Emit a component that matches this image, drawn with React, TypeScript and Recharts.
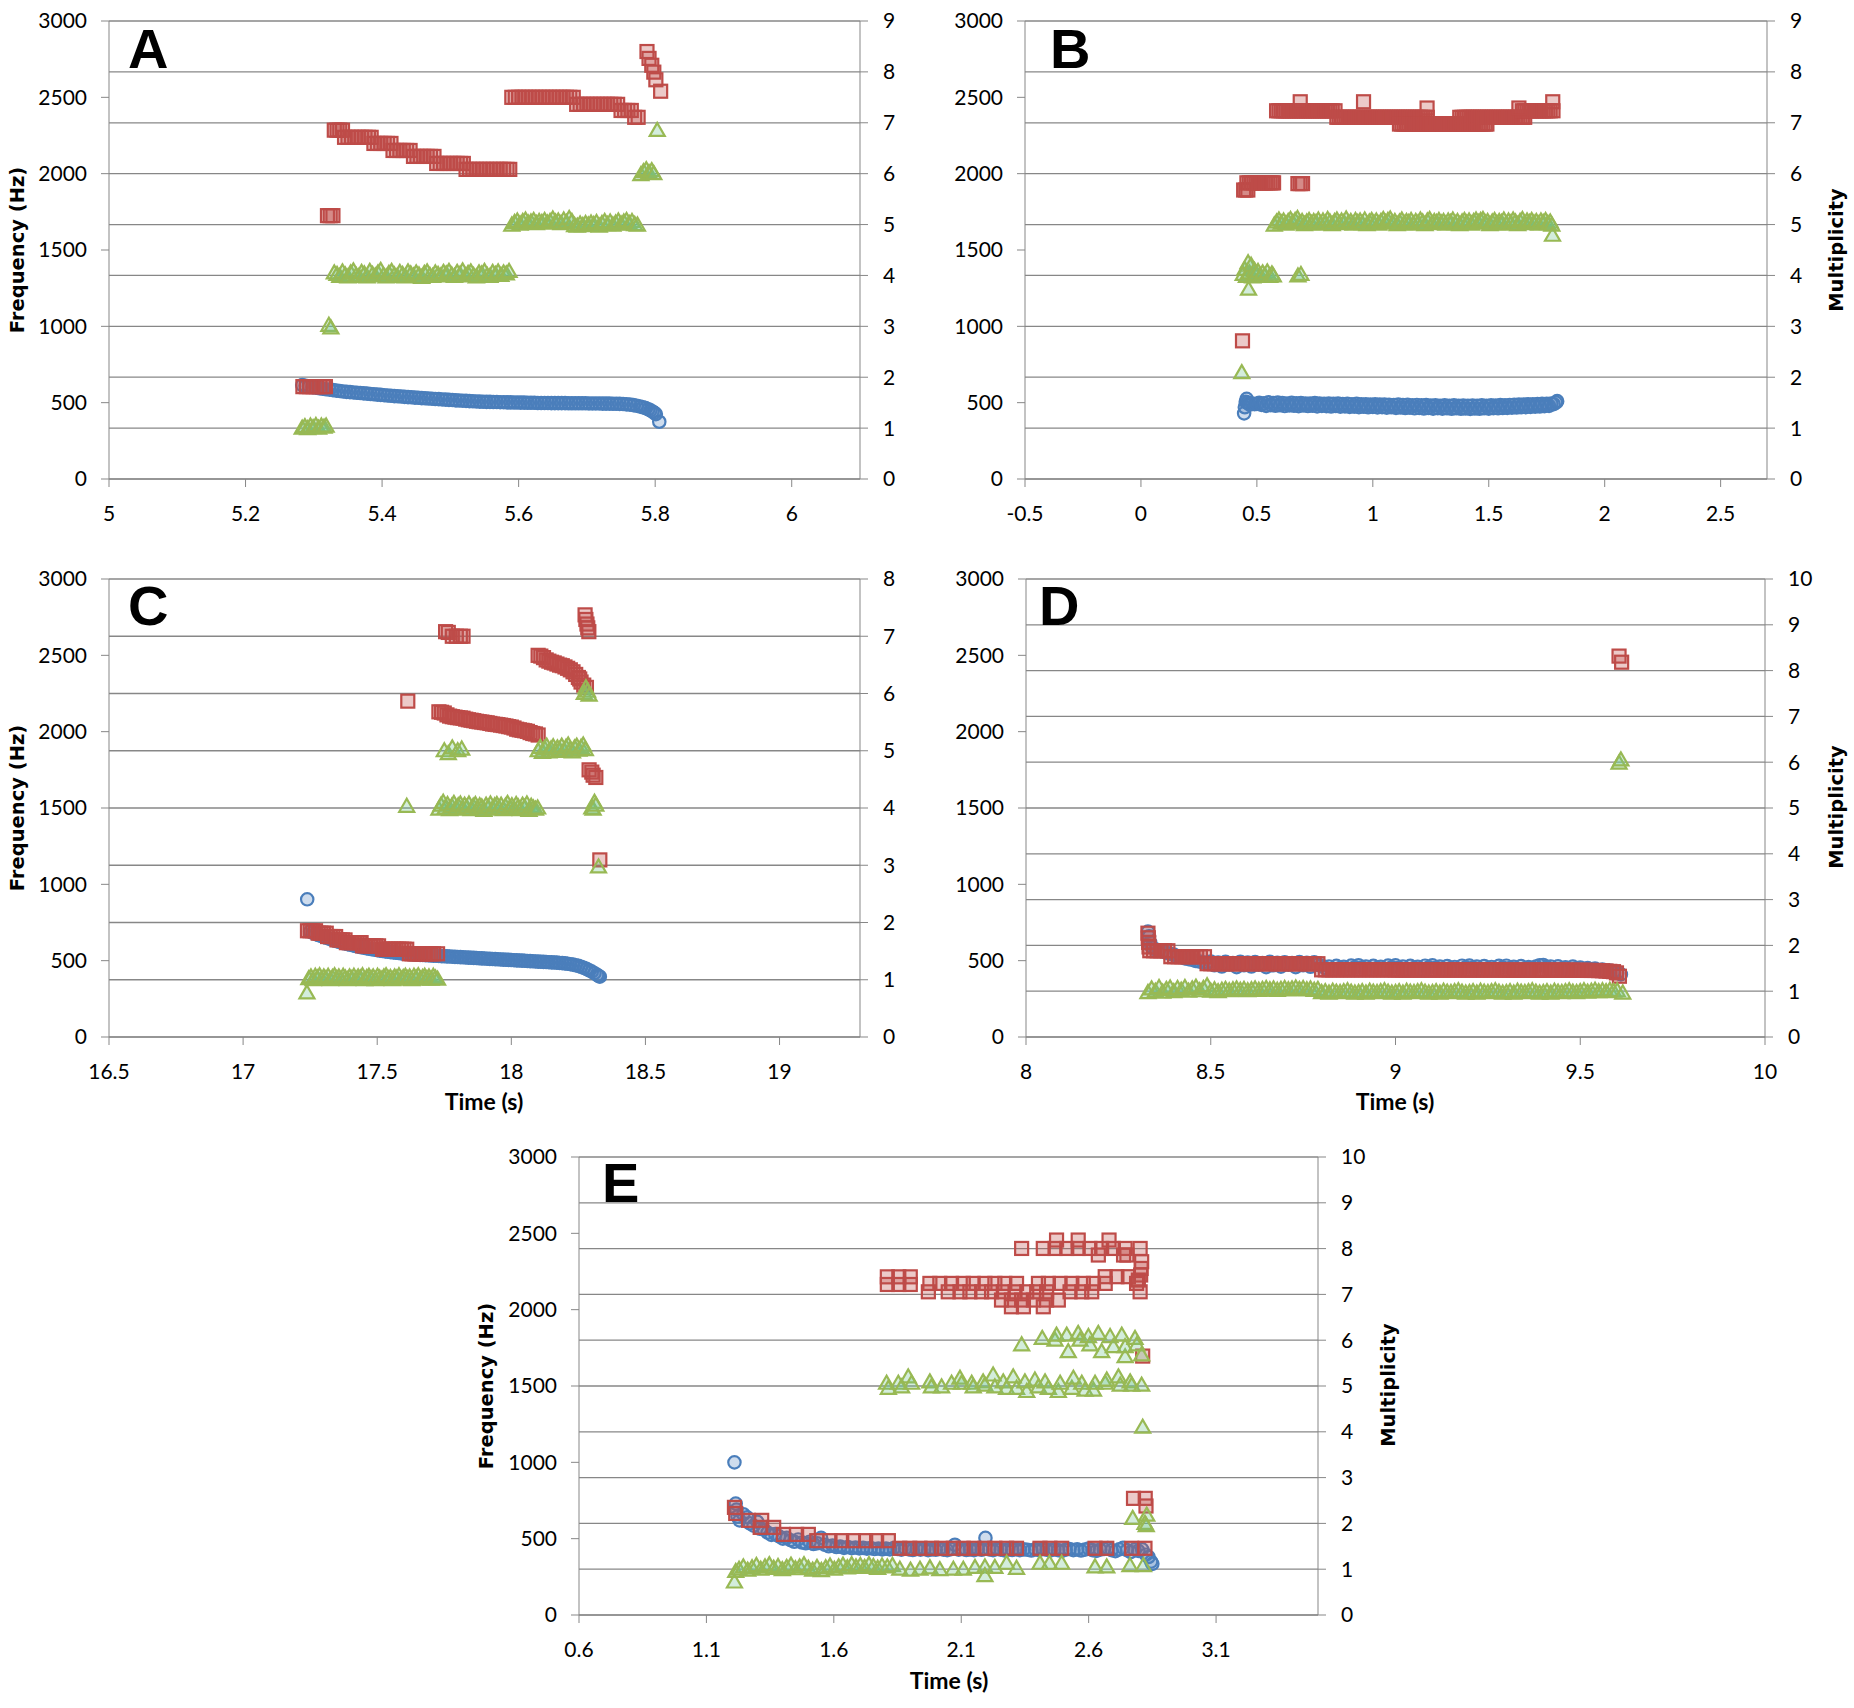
import React from "react";
import {
  ScatterChart,
  Scatter,
  XAxis,
  YAxis,
  CartesianGrid,
} from "recharts";

type Pt = [number, number];

// ---- Panel A ----
const aFreq: Pt[] = [[5.283,615],[5.288,610],[5.293,606],[5.298,602],[5.303,598],[5.308,594],[5.313,591],[5.318,588],[5.323,585],[5.328,582],[5.333,579],[5.338,576],[5.343,573],[5.348,571],[5.353,569],[5.358,567],[5.363,565],[5.368,563],[5.373,561],[5.378,559],[5.383,557],[5.388,555],[5.393,553],[5.398,551],[5.403,549],[5.408,547],[5.413,545],[5.418,543],[5.423,542],[5.428,540],[5.433,538],[5.438,536],[5.443,535],[5.448,533],[5.453,532],[5.458,530],[5.463,529],[5.468,527],[5.473,526],[5.478,524],[5.483,523],[5.488,521],[5.493,520],[5.498,518],[5.503,517],[5.508,515],[5.513,514],[5.518,513],[5.523,512],[5.528,510],[5.533,509],[5.538,508],[5.543,507],[5.548,506],[5.553,505],[5.558,505],[5.563,504],[5.568,504],[5.573,503],[5.578,503],[5.583,502],[5.588,502],[5.593,501],[5.598,501],[5.603,500],[5.608,500],[5.613,499],[5.618,499],[5.623,499],[5.628,498],[5.633,498],[5.638,498],[5.643,498],[5.648,497],[5.653,497],[5.658,497],[5.663,497],[5.668,497],[5.673,496],[5.678,496],[5.683,496],[5.688,496],[5.693,496],[5.698,496],[5.703,495],[5.708,495],[5.713,495],[5.718,495],[5.723,494],[5.728,494],[5.733,494],[5.738,493],[5.743,493],[5.748,492],[5.753,491],[5.758,489],[5.763,487],[5.768,484],[5.773,480],[5.778,475],[5.782,470],[5.786,464],[5.790,457],[5.793,450],[5.796,442],[5.799,433],[5.801,425],[5.806,375]];
const aHarm: Pt[] = [[5.284,605],[5.289,605],[5.294,605],[5.299,605],[5.304,605],[5.309,605],[5.314,605],[5.317,605],
[5.320,1725],[5.324,1725],[5.328,1725],
[5.330,2285],[5.334,2285],[5.338,2285],[5.342,2285],
[5.345,2238],[5.350,2238],[5.355,2238],[5.360,2238],[5.365,2238],[5.370,2238],[5.375,2238],[5.380,2238],[5.384,2238],
[5.388,2198],[5.393,2198],[5.398,2198],[5.403,2198],[5.408,2198],[5.413,2198],
[5.416,2152],[5.421,2152],[5.426,2152],[5.431,2152],[5.436,2152],[5.441,2152],
[5.446,2113],[5.451,2113],[5.456,2113],[5.461,2113],[5.466,2113],[5.471,2113],[5.476,2113],
[5.480,2067],[5.485,2067],[5.490,2067],[5.495,2067],[5.500,2067],[5.505,2067],[5.510,2067],[5.515,2067],[5.519,2067],
[5.523,2028],[5.528,2028],[5.533,2028],[5.538,2028],[5.543,2028],[5.548,2028],[5.553,2028],[5.558,2028],[5.563,2028],[5.568,2028],[5.573,2028],[5.578,2028],[5.583,2028],[5.587,2028],
[5.590,2500],[5.595,2500],[5.600,2500],[5.605,2500],[5.610,2500],[5.615,2500],[5.620,2500],[5.625,2500],[5.630,2500],[5.635,2500],[5.640,2500],[5.645,2500],[5.650,2500],[5.655,2500],[5.660,2500],[5.665,2500],[5.670,2500],[5.675,2500],[5.680,2500],
[5.685,2454],[5.690,2454],[5.695,2454],[5.700,2454],[5.705,2454],[5.710,2454],[5.715,2454],[5.720,2454],[5.725,2454],[5.730,2454],[5.735,2454],[5.740,2454],[5.745,2454],
[5.750,2414],[5.755,2414],[5.760,2414],[5.765,2414],[5.770,2369],[5.775,2369],
[5.788,2800],[5.791,2755],[5.795,2710],[5.798,2665],[5.801,2615],[5.808,2540]];
const aMult: Pt[] = [[5.283,1.0],[5.287,1.03],[5.291,0.99],[5.295,1.04],[5.299,1.01],[5.303,1.05],[5.307,1.0],[5.311,1.04],[5.315,1.02],[5.318,1.04],
[5.322,3.02],[5.325,2.97],
[5.330,4.05],[5.334,4.02],[5.338,3.98],[5.342,4.07],[5.346,4.01],[5.350,3.97],[5.354,4.05],[5.358,4.09],[5.362,4.0],[5.366,3.98],[5.370,4.06],[5.374,4.03],[5.378,3.97],[5.382,4.08],[5.386,4.02],[5.390,3.99],[5.394,4.05],[5.398,4.1],[5.402,4.0],[5.406,3.97],[5.410,4.04],[5.414,4.08],[5.418,4.01],[5.422,3.98],[5.426,4.06],[5.430,4.02],[5.434,3.97],[5.438,4.07],[5.442,4.03],[5.446,3.99],[5.450,4.05],[5.454,4.01],[5.458,3.96],[5.462,4.04],[5.466,4.07],[5.470,4.0],[5.474,3.98],[5.478,4.05],[5.482,4.02],[5.486,3.99],[5.490,4.06],[5.494,4.03],[5.498,4.08],[5.502,4.01],[5.506,3.98],[5.510,4.06],[5.514,4.02],[5.518,4.09],[5.522,3.99],[5.526,4.04],[5.530,4.07],[5.534,4.0],[5.538,3.97],[5.542,4.05],[5.546,4.03],[5.550,4.08],[5.554,4.0],[5.558,3.98],[5.562,4.06],[5.566,4.02],[5.570,4.07],[5.574,4.0],[5.578,4.05],[5.582,4.03],[5.586,4.08],
[5.590,4.99],[5.594,5.04],[5.598,5.07],[5.602,5.01],[5.606,5.06],[5.610,5.09],[5.614,5.03],[5.618,5.05],[5.622,5.08],[5.626,5.02],[5.630,5.06],[5.634,5.04],[5.638,5.08],[5.642,5.03],[5.646,5.06],[5.650,5.11],[5.654,5.05],[5.658,5.07],[5.662,5.02],[5.666,5.09],[5.670,5.04],[5.674,5.12],[5.678,5.06],[5.682,4.98],[5.686,4.97],[5.690,5.01],[5.694,4.98],[5.698,5.02],[5.702,4.99],[5.706,5.03],[5.710,5.0],[5.714,5.04],[5.718,4.97],[5.722,5.02],[5.726,5.06],[5.730,5.0],[5.734,5.05],[5.738,4.99],[5.742,5.03],[5.746,5.07],[5.750,5.01],[5.754,5.05],[5.758,5.08],[5.762,5.02],[5.766,5.06],[5.770,5.0],[5.774,4.99],
[5.779,5.98],[5.783,6.04],[5.787,6.08],[5.791,6.02],[5.795,6.06],[5.798,6.0],[5.803,6.85]];

// ---- Panel B ----
const bFreq: Pt[] = [[0.445,430],[0.448,470],[0.452,505],[0.456,525],[0.46,500],[0.465,492],[0.47,488],[0.48,494],[0.49,490],[0.50,492],[0.51,499],[0.52,485],[0.53,496],[0.54,479],[0.55,502],[0.56,484],[0.57,497],[0.58,480],[0.59,500],[0.60,483],[0.61,498],[0.62,478],[0.63,495],[0.64,482],[0.65,499],[0.66,480],[0.67,496],[0.68,477],[0.69,497],[0.70,481],[0.71,495],[0.72,478],[0.73,494],[0.74,480],[0.75,497],[0.76,476],[0.77,494],[0.78,479],[0.79,493],[0.80,477],[0.81,495],[0.82,475],[0.83,492],[0.84,478],[0.85,494],[0.86,474],[0.87,491],[0.88,476],[0.89,493],[0.90,472],[0.91,490],[0.92,474],[0.93,492],[0.94,471],[0.95,489],[0.96,473],[0.97,490],[0.98,470],[0.99,488],[1.00,472],[1.01,489],[1.02,469],[1.03,487],[1.04,471],[1.05,488],[1.06,467],[1.07,486],[1.08,470],[1.09,485],[1.10,466],[1.11,487],[1.12,468],[1.13,484],[1.14,465],[1.15,486],[1.16,467],[1.17,483],[1.18,463],[1.19,485],[1.20,466],[1.21,482],[1.22,462],[1.23,484],[1.24,465],[1.25,481],[1.26,461],[1.27,483],[1.28,464],[1.29,480],[1.30,461],[1.31,482],[1.32,463],[1.33,480],[1.34,460],[1.35,482],[1.36,463],[1.37,479],[1.38,460],[1.39,481],[1.40,462],[1.41,480],[1.42,459],[1.43,481],[1.44,462],[1.45,480],[1.46,460],[1.47,482],[1.48,463],[1.49,480],[1.50,461],[1.51,482],[1.52,464],[1.53,481],[1.54,463],[1.55,484],[1.56,465],[1.57,483],[1.58,466],[1.59,485],[1.60,467],[1.61,486],[1.62,468],[1.63,487],[1.64,470],[1.65,488],[1.66,471],[1.67,489],[1.68,472],[1.69,490],[1.70,474],[1.71,491],[1.72,475],[1.73,492],[1.74,477],[1.75,493],[1.76,479],[1.77,494],[1.78,490],[1.79,500],[1.795,510]];
const bHarm: Pt[] = [[0.438,905],
[0.443,1893],[0.452,1893],[0.461,1893],
[0.457,1940],[0.467,1940],[0.477,1940],[0.487,1940],[0.497,1940],[0.507,1940],[0.517,1940],[0.527,1940],[0.537,1940],[0.547,1940],[0.557,1940],[0.566,1940],[0.572,1940],
[0.677,1935],[0.687,1935],[0.697,1935],
[0.585,2412],[0.595,2412],[0.605,2412],[0.615,2412],[0.625,2412],[0.635,2412],[0.645,2412],[0.655,2412],[0.665,2412],[0.675,2412],[0.685,2412],[0.695,2412],[0.705,2412],[0.715,2412],[0.725,2412],[0.735,2412],[0.745,2412],[0.755,2412],[0.765,2412],[0.775,2412],[0.785,2412],[0.795,2412],[0.805,2412],[0.815,2412],[0.825,2412],[0.837,2412],
[0.845,2369],[0.855,2369],[0.865,2369],[0.875,2369],[0.885,2369],[0.895,2369],[0.905,2369],[0.915,2369],[0.925,2369],[0.935,2369],[0.945,2369],[0.955,2369],[0.965,2369],[0.975,2369],[0.985,2369],[0.995,2369],[1.005,2369],[1.015,2369],[1.025,2369],[1.035,2369],[1.045,2369],[1.055,2369],[1.065,2369],[1.075,2369],[1.085,2369],[1.095,2369],[1.105,2369],[1.115,2369],[1.125,2369],[1.135,2369],[1.145,2369],[1.155,2369],[1.165,2369],[1.175,2369],[1.185,2369],[1.195,2369],[1.205,2369],[1.215,2369],[1.225,2369],[1.235,2369],
[1.115,2325],[1.125,2325],[1.135,2325],[1.145,2325],[1.155,2325],[1.165,2325],[1.175,2325],[1.185,2325],[1.195,2325],[1.205,2325],[1.215,2325],[1.225,2325],[1.235,2325],[1.245,2325],[1.255,2325],[1.265,2325],[1.275,2325],[1.285,2325],[1.295,2325],[1.305,2325],[1.315,2325],[1.325,2325],[1.335,2325],[1.345,2325],[1.355,2325],[1.365,2325],[1.375,2325],[1.385,2325],[1.395,2325],[1.405,2325],[1.415,2325],[1.425,2325],[1.435,2325],[1.445,2325],[1.455,2325],[1.465,2325],[1.475,2325],[1.485,2325],[1.492,2325],
[1.375,2369],[1.385,2369],[1.395,2369],[1.405,2369],[1.415,2369],[1.425,2369],[1.435,2369],[1.445,2369],[1.455,2369],[1.465,2369],[1.475,2369],[1.485,2369],[1.495,2369],[1.505,2369],[1.515,2369],[1.525,2369],[1.535,2369],[1.545,2369],[1.555,2369],[1.565,2369],[1.575,2369],[1.585,2369],[1.595,2369],[1.605,2369],[1.615,2369],[1.625,2369],[1.635,2369],[1.645,2369],[1.655,2369],
[1.645,2412],[1.655,2412],[1.665,2412],[1.675,2412],[1.685,2412],[1.695,2412],[1.705,2412],[1.715,2412],[1.725,2412],[1.735,2412],[1.745,2412],[1.755,2412],[1.765,2412],[1.777,2412],
[0.687,2471],[0.96,2471],[1.776,2471],[1.234,2430],[1.63,2430]];
const bMult: Pt[] = [[0.435,2.09],
[0.441,4.02],[0.448,4.12],[0.455,3.98],[0.462,4.25],[0.468,4.05],[0.475,4.2],[0.482,3.97],[0.49,4.1],[0.498,4.02],[0.505,4.08],[0.515,3.99],[0.525,4.05],[0.535,4.0],[0.545,4.07],[0.555,3.98],[0.565,4.03],[0.571,3.99],[0.464,3.73],
[0.677,3.99],[0.69,4.02],
[0.575,4.99],[0.585,5.05],[0.595,5.09],[0.605,5.03],[0.615,5.07],[0.625,5.01],[0.635,5.06],[0.645,5.1],[0.655,5.04],[0.665,5.08],[0.675,5.12],[0.685,5.03],[0.695,5.06],[0.705,5.0],[0.715,5.05],[0.725,5.08],[0.735,5.02],[0.745,5.06],[0.755,5.04],[0.765,5.09],
[0.775,5.01],[0.785,5.07],[0.795,5.03],[0.805,5.1],[0.815,5.05],[0.825,5.0],[0.835,5.06],[0.845,5.09],[0.855,5.02],[0.865,5.07],[0.875,5.04],[0.885,5.11],[0.895,5.03],[0.905,5.06],[0.915,5.01],[0.925,5.08],[0.935,5.04],[0.945,5.07],[0.955,5.02],[0.965,5.09],
[0.975,5.0],[0.985,5.05],[0.995,5.08],[1.005,5.03],[1.015,5.07],[1.025,5.01],[1.035,5.06],[1.045,5.1],[1.055,5.04],[1.065,5.08],[1.075,5.11],[1.085,5.03],[1.095,5.06],[1.105,5.0],[1.115,5.05],[1.125,5.09],[1.135,5.02],[1.145,5.06],[1.155,5.04],[1.165,5.08],
[1.175,5.01],[1.185,5.06],[1.195,5.03],[1.205,5.09],[1.215,5.05],[1.225,5.0],[1.235,5.07],[1.245,5.1],[1.255,5.02],[1.265,5.06],[1.275,5.04],[1.285,5.08],[1.295,5.03],[1.305,5.06],[1.315,5.01],[1.325,5.07],[1.335,5.04],[1.345,5.09],[1.355,5.02],[1.365,5.06],
[1.375,5.0],[1.385,5.05],[1.395,5.08],[1.405,5.03],[1.415,5.07],[1.425,5.01],[1.435,5.06],[1.445,5.09],[1.455,5.04],[1.465,5.08],[1.475,5.1],[1.485,5.03],[1.495,5.06],[1.505,5.0],[1.515,5.05],[1.525,5.08],[1.535,5.02],[1.545,5.06],[1.555,5.04],[1.565,5.09],
[1.575,5.01],[1.585,5.07],[1.595,5.03],[1.605,5.09],[1.615,5.05],[1.625,5.0],[1.635,5.06],[1.645,5.1],[1.655,5.02],[1.665,5.07],[1.675,5.04],[1.685,5.08],[1.695,5.03],[1.705,5.06],[1.715,5.01],[1.725,5.07],[1.735,5.04],[1.745,5.08],[1.755,5.02],[1.765,5.05],[1.772,4.99],[1.775,4.79]];

// ---- Panel C ----
const cFreq: Pt[] = [[17.239,902],[17.25,690],[17.26,682],[17.27,675],[17.28,668],[17.29,662],[17.30,656],[17.31,650],[17.32,644],[17.33,638],[17.34,632],[17.35,627],[17.36,622],[17.37,617],[17.38,612],[17.39,608],[17.40,604],[17.41,600],[17.42,596],[17.43,592],[17.44,588],[17.45,585],[17.46,581],[17.47,578],[17.48,575],[17.49,572],[17.50,569],[17.51,566],[17.52,563],[17.53,561],[17.54,558],[17.55,556],[17.56,554],[17.57,552],[17.58,550],[17.59,548],[17.60,546],[17.61,545],[17.62,543],[17.63,542],[17.64,540],[17.65,539],[17.66,538],[17.67,537],[17.68,536],[17.69,535],[17.70,534],[17.71,533],[17.72,532],[17.73,531],[17.74,530],[17.75,529],[17.76,528],[17.77,527],[17.78,526],[17.79,525],[17.80,524],[17.81,523],[17.82,522],[17.83,521],[17.84,520],[17.85,519],[17.86,518],[17.87,517],[17.88,516],[17.89,515],[17.90,514],[17.91,513],[17.92,512],[17.93,511],[17.94,510],[17.95,509],[17.96,508],[17.97,507],[17.98,506],[17.99,505],[18.00,504],[18.01,503],[18.02,502],[18.03,501],[18.04,500],[18.05,499],[18.06,498],[18.07,497],[18.08,496],[18.09,495],[18.10,494],[18.11,493],[18.12,492],[18.13,491],[18.14,490],[18.15,489],[18.16,488],[18.17,487],[18.18,485],[18.19,484],[18.20,482],[18.21,480],[18.22,477],[18.23,474],[18.24,470],[18.25,466],[18.26,460],[18.27,453],[18.28,446],[18.29,437],[18.30,428],[18.31,418],[18.32,407],[18.325,400],[18.33,395]];
const cHarm: Pt[] = [[17.24,696],[17.25,696],[17.26,696],[17.27,696],[17.28,680],[17.29,680],[17.30,680],[17.31,680],[17.315,658],[17.325,658],[17.335,658],[17.345,658],[17.35,636],[17.36,636],[17.37,636],[17.38,636],
[17.385,618],[17.395,618],[17.405,618],[17.415,618],[17.425,618],[17.435,618],[17.44,618],[17.445,597],[17.455,597],[17.465,597],[17.475,597],[17.485,597],[17.495,597],[17.505,597],
[17.52,575],[17.53,575],[17.54,575],[17.55,575],[17.56,575],[17.57,575],[17.58,575],[17.59,575],[17.60,575],[17.61,575],
[17.62,545],[17.63,545],[17.64,545],[17.65,545],[17.66,545],[17.67,545],[17.68,545],[17.69,545],[17.70,545],[17.71,545],[17.725,545],
[17.614,2200],
[17.73,2130],[17.74,2127],[17.75,2122],[17.76,2110],[17.77,2102],[17.78,2098],[17.79,2095],[17.80,2092],[17.81,2090],[17.82,2088],[17.83,2082],[17.84,2078],[17.85,2075],[17.86,2072],[17.87,2068],[17.88,2065],[17.89,2063],[17.90,2060],[17.91,2058],[17.92,2054],[17.93,2050],[17.94,2048],[17.95,2046],[17.96,2043],[17.97,2040],[17.98,2037],[17.99,2033],[18.0,2030],[18.01,2024],[18.02,2016],[18.03,2012],[18.04,2009],[18.05,2006],[18.06,2002],[18.07,1994],[18.08,1988],[18.09,1985],[18.1,1978],
[18.10,2500],[18.11,2495],[18.12,2485],[18.13,2470],[18.14,2462],[18.15,2455],[18.16,2450],[18.17,2443],[18.18,2436],[18.19,2432],[18.20,2424],[18.21,2415],[18.22,2405],[18.23,2392],[18.24,2375],[18.25,2355],[18.255,2345],[18.26,2325],[18.27,2305],[18.28,2290],
[18.275,2765],[18.278,2735],[18.282,2705],[18.285,2680],[18.289,2655],
[17.755,2655],[17.765,2650],[17.78,2625],[17.795,2625],[17.81,2625],[17.82,2625],
[18.29,1750],[18.30,1735],[18.305,1715],[18.315,1700],[18.33,1160]];
const cMult: Pt[] = [[17.238,0.77],
[17.245,1.02],[17.253,1.05],[17.261,1.0],[17.269,1.06],[17.277,1.03],[17.285,1.07],[17.293,1.01],[17.301,1.05],[17.309,1.02],[17.317,1.06],[17.325,1.0],[17.333,1.04],[17.341,1.07],[17.349,1.02],[17.357,1.05],[17.365,1.01],[17.373,1.06],[17.381,1.03],[17.389,1.0],[17.397,1.05],
[17.405,1.02],[17.413,1.06],[17.421,1.01],[17.429,1.05],[17.437,1.03],[17.445,1.07],[17.453,1.0],[17.461,1.04],[17.469,1.06],[17.477,1.02],[17.485,1.05],[17.493,1.0],[17.501,1.06],[17.509,1.03],[17.517,1.01],[17.525,1.05],[17.533,1.07],[17.541,1.02],[17.549,1.04],[17.557,1.0],
[17.565,1.05],[17.573,1.03],[17.581,1.07],[17.589,1.01],[17.597,1.04],[17.605,1.06],[17.613,1.02],[17.621,1.05],[17.629,1.0],[17.637,1.06],[17.645,1.03],[17.653,1.07],[17.661,1.01],[17.669,1.04],[17.677,1.06],[17.685,1.02],[17.693,1.05],[17.701,1.01],[17.709,1.06],[17.717,1.03],[17.725,1.01],
[17.61,4.03],
[17.730,3.98],[17.738,4.05],[17.746,4.1],[17.754,4.0],[17.762,4.06],[17.770,3.97],[17.778,4.03],[17.786,4.08],[17.794,3.99],[17.802,4.04],[17.810,4.07],[17.818,3.98],[17.826,4.05],[17.834,4.01],[17.842,4.07],[17.850,3.97],[17.858,4.03],[17.866,4.06],[17.874,3.99],[17.882,4.04],[17.890,4.02],[17.898,3.96],[17.906,4.05],[17.914,4.01],
[17.922,4.07],[17.930,3.98],[17.938,4.04],[17.946,4.06],[17.954,4.0],[17.962,4.05],[17.970,3.97],[17.978,4.03],[17.986,4.08],[17.994,4.0],[18.002,4.04],[18.010,3.98],[18.018,4.06],[18.026,4.02],[18.034,3.97],[18.042,4.05],[18.050,4.01],[18.058,4.07],[18.066,3.96],[18.074,4.03],[18.082,4.0],[18.090,3.98],[18.098,4.0],
[17.75,5.0],[17.765,4.95],[17.78,5.05],[17.8,5.0],[17.815,5.03],
[18.100,5.0],[18.108,5.06],[18.116,4.97],[18.124,5.04],[18.132,5.08],[18.140,4.98],[18.148,5.03],[18.156,5.07],[18.164,4.99],[18.172,5.05],[18.180,5.02],[18.188,5.08],[18.196,5.0],[18.204,5.06],[18.212,5.1],[18.220,5.02],[18.228,4.98],[18.236,5.05],[18.244,5.08],[18.252,5.01],[18.260,5.06],[18.268,5.1],[18.276,5.02],
[18.272,6.0],[18.278,6.1],[18.284,6.04],[18.29,5.97],
[18.3,4.0],[18.305,3.98],[18.31,4.1],[18.315,4.05],[18.325,2.97]];

// ---- Panel D ----
const dFreq: Pt[] = [[8.33,690],[8.333,660],[8.336,620],[8.34,590],[8.35,575],[8.36,568],[8.37,560],[8.38,552],[8.39,545],[8.40,540],[8.41,530],[8.42,522],[8.43,515],[8.44,510],[8.45,505],[8.46,498],[8.47,494],[8.48,490],[8.49,486],
[8.50,495],[8.51,470],[8.52,488],[8.53,462],[8.54,492],[8.55,475],[8.56,485],[8.57,458],[8.58,493],[8.59,470],[8.60,487],[8.61,462],[8.62,491],[8.63,474],[8.64,484],[8.65,458],[8.66,492],[8.67,470],[8.68,486],[8.69,461],[8.70,490],[8.71,474],[8.72,484],[8.73,458],[8.74,491],[8.75,470],[8.76,486],[8.77,460],[8.78,489],[8.79,472],
[8.80,468],[8.81,452],[8.82,462],[8.83,446],[8.84,466],[8.85,452],[8.86,460],[8.87,445],[8.88,468],[8.89,457],[8.90,470],[8.91,455],[8.92,462],[8.93,448],[8.94,466],[8.95,452],[8.96,460],[8.97,445],[8.98,468],[8.99,457],
[9.00,469],[9.01,454],[9.02,462],[9.03,447],[9.04,466],[9.05,451],[9.06,460],[9.07,445],[9.08,467],[9.09,456],[9.10,469],[9.11,454],[9.12,461],[9.13,447],[9.14,465],[9.15,451],[9.16,459],[9.17,444],[9.18,467],[9.19,456],
[9.20,468],[9.21,453],[9.22,461],[9.23,446],[9.24,465],[9.25,450],[9.26,459],[9.27,444],[9.28,466],[9.29,455],[9.30,467],[9.31,452],[9.32,460],[9.33,445],[9.34,464],[9.35,450],[9.36,458],[9.37,452],[9.38,462],[9.39,470],
[9.40,472],[9.41,458],[9.42,462],[9.43,444],[9.44,463],[9.45,449],[9.46,457],[9.47,442],[9.48,461],[9.49,450],[9.50,455],[9.51,440],[9.52,452],[9.53,438],[9.54,448],[9.55,436],[9.56,442],[9.57,432],[9.58,436],[9.59,426],[9.60,420],[9.61,410]];
const dHarm: Pt[] = [[8.330,680],[8.331,650],[8.332,620],[8.333,590],
[8.335,565],[8.345,565],[8.355,565],[8.365,565],[8.375,565],[8.384,565],
[8.392,526],[8.402,526],[8.412,526],[8.422,526],[8.432,526],[8.442,526],[8.452,526],[8.462,526],[8.472,526],[8.483,526],
[8.49,480],[8.50,480],[8.51,480],[8.52,480],[8.53,480],[8.54,480],[8.55,480],[8.56,480],[8.57,480],[8.58,480],[8.59,480],[8.60,480],[8.61,480],[8.62,480],[8.63,480],[8.64,480],[8.65,480],[8.66,480],[8.67,480],[8.68,480],[8.69,480],[8.70,480],[8.71,480],[8.72,480],[8.73,480],[8.74,480],[8.75,480],[8.76,480],[8.77,480],[8.78,480],[8.79,480],
[8.80,440],[8.81,440],[8.82,440],[8.83,440],[8.84,440],[8.85,440],[8.86,440],[8.87,440],[8.88,440],[8.89,440],[8.90,440],[8.91,440],[8.92,440],[8.93,440],[8.94,440],[8.95,440],[8.96,440],[8.97,440],[8.98,440],[8.99,440],
[9.00,439],[9.01,439],[9.02,439],[9.03,439],[9.04,439],[9.05,439],[9.06,439],[9.07,439],[9.08,439],[9.09,439],[9.10,439],[9.11,439],[9.12,439],[9.13,439],[9.14,439],[9.15,439],[9.16,439],[9.17,439],[9.18,439],[9.19,439],
[9.20,439],[9.21,439],[9.22,439],[9.23,439],[9.24,439],[9.25,439],[9.26,439],[9.27,439],[9.28,439],[9.29,439],[9.30,438],[9.31,438],[9.32,438],[9.33,438],[9.34,438],[9.35,438],[9.36,438],[9.37,438],[9.38,438],[9.39,438],
[9.40,438],[9.41,438],[9.42,438],[9.43,438],[9.44,438],[9.45,438],[9.46,438],[9.47,438],[9.48,437],[9.49,437],[9.50,437],[9.51,437],[9.52,436],[9.53,436],[9.54,436],[9.55,435],[9.56,434],[9.57,432],[9.58,430],[9.59,428],
[9.598,420],[9.606,398],[9.605,2495],[9.612,2455]];
const dMult: Pt[] = [[8.33,0.97],[8.34,1.05],[8.35,1.0],[8.36,1.08],[8.37,0.98],[8.38,1.04],[8.39,1.07],[8.40,0.99],[8.41,1.06],[8.42,1.02],[8.43,1.08],[8.44,1.0],[8.45,1.05],[8.46,1.09],[8.47,1.01],[8.48,1.06],[8.49,1.12],[8.50,1.0],[8.51,1.03],[8.52,0.99],[8.53,1.02],[8.54,1.04],[8.55,1.01],[8.56,1.03],[8.57,1.05],[8.58,1.02],[8.59,1.04],[8.60,1.01],[8.61,1.03],[8.62,1.05],[8.63,1.02],[8.64,1.04],[8.65,1.06],[8.66,1.03],[8.67,1.05],[8.68,1.02],[8.69,1.04],[8.70,1.06],[8.71,1.03],[8.72,1.05],[8.73,1.07],[8.74,1.04],[8.75,1.06],[8.76,1.03],[8.77,1.05],[8.78,1.02],[8.79,1.04],
[8.80,0.97],[8.81,0.99],[8.82,0.96],[8.83,1.0],[8.84,0.98],[8.85,0.97],[8.86,0.99],[8.87,1.01],[8.88,0.98],[8.89,0.96],[8.90,0.97],[8.91,0.99],[8.92,0.96],[8.93,1.0],[8.94,0.98],[8.95,0.97],[8.96,0.99],[8.97,1.01],[8.98,0.98],[8.99,0.96],
[9.00,0.97],[9.01,0.99],[9.02,0.96],[9.03,1.0],[9.04,0.98],[9.05,0.97],[9.06,0.99],[9.07,1.01],[9.08,0.98],[9.09,0.96],[9.10,0.97],[9.11,0.99],[9.12,0.96],[9.13,1.0],[9.14,0.98],[9.15,0.97],[9.16,0.99],[9.17,1.01],[9.18,0.98],[9.19,0.96],
[9.20,0.97],[9.21,0.99],[9.22,0.96],[9.23,1.0],[9.24,0.98],[9.25,0.97],[9.26,0.99],[9.27,1.01],[9.28,0.98],[9.29,0.96],[9.30,0.97],[9.31,0.99],[9.32,0.96],[9.33,1.0],[9.34,0.98],[9.35,0.97],[9.36,0.99],[9.37,1.01],[9.38,0.98],[9.39,0.96],
[9.40,0.97],[9.41,0.99],[9.42,0.96],[9.43,1.0],[9.44,0.98],[9.45,0.97],[9.46,0.99],[9.47,1.01],[9.48,0.98],[9.49,0.97],[9.50,0.99],[9.51,1.01],[9.52,0.98],[9.53,1.0],[9.54,1.02],[9.55,0.99],[9.56,1.01],[9.57,0.99],[9.58,1.02],[9.59,1.0],[9.60,1.01],[9.615,0.96],
[9.605,5.98],[9.61,6.05]];

// ---- Panel E ----
const eFreq: Pt[] = [[1.21,1000],[1.215,730],[1.218,690],[1.222,645],[1.23,620],[1.245,660],[1.26,640],[1.27,600],[1.285,585],[1.30,610],[1.31,565],[1.325,560],[1.34,540],[1.355,525],[1.37,530],[1.385,515],[1.40,500],[1.415,505],[1.43,490],[1.445,480],[1.46,495],[1.475,475],[1.49,470],[1.505,480],[1.52,465],[1.535,470],[1.55,505],[1.565,460],[1.58,450],[1.595,455],[1.61,445],[1.625,448],[1.64,440],[1.655,445],[1.67,438],[1.685,442],[1.70,436],[1.715,440],[1.73,435],[1.745,438],[1.76,432],[1.775,436],[1.79,430],[1.805,435],[1.82,430],[1.835,438],[1.85,432],[1.865,428],[1.88,435],[1.895,430],[1.91,426],[1.925,433],[1.94,428],[1.955,432],[1.97,425],[1.985,430],[2.0,427],[2.015,433],[2.03,428],[2.045,425],[2.06,431],[2.075,460],[2.09,428],[2.105,432],[2.12,426],[2.135,430],[2.15,425],[2.165,432],[2.18,427],[2.195,505],[2.21,430],[2.225,425],[2.24,432],[2.255,428],[2.27,423],[2.285,430],[2.30,426],[2.315,432],[2.33,425],[2.345,430],[2.36,427],[2.375,422],[2.39,430],[2.405,425],[2.42,432],[2.435,427],[2.45,423],[2.465,430],[2.48,425],[2.495,420],[2.51,428],[2.525,432],[2.54,425],[2.555,430],[2.57,422],[2.585,428],[2.60,435],[2.615,425],[2.63,420],[2.645,428],[2.66,432],[2.675,438],[2.69,425],[2.705,418],[2.72,430],[2.735,440],[2.75,425],[2.765,412],[2.78,428],[2.795,420],[2.81,430],[2.825,395],[2.835,380],[2.845,350],[2.85,335]];
const eHarm: Pt[] = [[1.21,705],[1.215,665],[1.265,620],[1.317,620],[1.311,574],[1.364,574],[1.402,528],[1.454,528],[1.50,528],
[1.533,487],[1.585,487],[1.631,487],[1.677,487],[1.725,487],[1.768,487],[1.814,487],
[1.859,437],[1.898,437],[1.938,437],[1.984,437],[2.023,437],[2.069,437],[2.108,437],[2.150,437],[2.193,437],[2.232,437],[2.278,437],[2.317,437],[2.409,437],[2.448,437],[2.494,437],[2.625,437],[2.671,437],[2.769,437],[2.821,437],
[1.81,2215],[1.855,2215],[1.90,2215],[1.81,2165],[1.855,2165],[1.90,2165],
[1.977,2172],[2.016,2172],[2.062,2172],[2.108,2172],[2.147,2172],[2.193,2172],[2.232,2172],[2.271,2172],[2.317,2172],[2.403,2172],[2.442,2172],[2.488,2172],[2.534,2172],[2.579,2172],[2.619,2172],[2.665,2172],
[1.971,2117],[2.049,2117],[2.095,2117],[2.134,2117],[2.180,2117],[2.219,2117],[2.265,2117],[2.311,2117],[2.357,2117],[2.396,2117],[2.435,2117],[2.527,2117],[2.573,2117],[2.612,2117],[2.802,2117],
[2.258,2063],[2.297,2063],[2.337,2063],[2.383,2063],[2.435,2063],[2.481,2063],
[2.297,2019],[2.344,2019],[2.422,2019],
[2.665,2216],[2.711,2216],[2.756,2216],
[2.337,2401],[2.422,2401],[2.468,2401],[2.514,2401],[2.559,2401],[2.605,2401],[2.651,2401],[2.697,2401],[2.743,2401],[2.802,2401],
[2.474,2456],[2.559,2456],[2.68,2456],
[2.638,2358],[2.737,2358],[2.75,2358],
[2.808,2314],[2.806,2270],[2.804,2227],[2.795,2194],[2.788,2172],
[2.812,1696],[2.776,764],[2.822,764],[2.825,714]];
const eMult: Pt[] = [[1.21,0.72],[1.215,0.95],[1.228,1.0],[1.245,1.05],[1.262,0.98],[1.279,1.03],[1.296,1.08],[1.313,1.0],[1.33,1.05],[1.347,1.1],[1.364,1.02],[1.381,1.06],[1.398,0.99],[1.415,1.04],[1.432,1.09],[1.449,1.01],[1.466,1.05],[1.483,1.1],[1.50,1.02],[1.517,0.98],[1.534,1.04],[1.551,0.97],[1.568,1.03],[1.585,1.07],[1.602,1.0],[1.619,1.05],[1.636,1.09],[1.653,1.03],[1.67,1.1],[1.687,1.05],[1.704,1.08],[1.721,1.04],[1.738,1.1],[1.755,1.06],[1.772,1.02],[1.789,1.07],[1.81,1.05],[1.83,1.08],
[1.859,1.0],[1.901,0.98],[1.938,1.0],[1.977,1.03],[2.016,0.99],[2.069,1.0],[2.108,1.0],[2.154,1.04],[2.193,1.05],[2.193,0.86],[2.232,1.04],[2.278,1.13],[2.317,1.02],[2.409,1.13],[2.446,1.13],[2.494,1.13],[2.625,1.05],[2.671,1.05],[2.762,1.08],[2.815,1.08],
[1.807,5.06],[1.814,4.95],[1.853,5.06],[1.866,4.98],[1.892,5.2],[1.905,5.06],[1.977,5.09],[1.983,4.98],[2.023,4.98],[2.062,5.06],[2.095,5.17],[2.101,5.06],[2.141,5.06],[2.147,4.98],[2.186,5.09],[2.193,5.02],[2.225,5.24],[2.232,4.98],[2.265,5.09],[2.278,4.95],[2.304,5.2],[2.317,4.95],[2.35,5.09],[2.357,4.88],[2.389,5.13],[2.403,4.98],[2.429,5.09],[2.442,4.95],[2.481,4.88],[2.488,5.06],[2.534,4.95],[2.54,5.17],[2.573,5.06],[2.586,4.91],[2.619,4.91],[2.625,5.06],[2.665,5.06],[2.671,5.13],[2.717,5.2],[2.724,5.02],[2.763,5.09],[2.769,5.02],[2.808,5.02],
[2.337,5.9],[2.418,6.04],[2.468,6.0],[2.474,6.11],[2.514,6.11],[2.52,5.75],[2.559,6.15],[2.566,6.0],[2.599,6.08],[2.605,5.9],[2.638,6.15],[2.651,5.75],[2.684,6.08],[2.697,5.86],[2.73,6.11],[2.743,5.64],[2.743,5.86],[2.782,6.04],[2.789,5.9],[2.808,5.68],
[2.812,4.1],[2.773,2.11],[2.828,2.18],[2.821,2.0],[2.826,1.95]];

const freqTicks = [0, 500, 1000, 1500, 2000, 2500, 3000];
const GRID = "#878787";
const TICK_FONT = "Lato, 'Open Sans', sans-serif";
const TITLE_FONT = "'DejaVu Sans', Verdana, sans-serif";

const toData = (arr: Pt[]) => arr.map(([x, y]) => ({ x, y }));

const CircleMark = (p: any) =>
  p.cx == null ? null : (
    <circle cx={p.cx} cy={p.cy} r={6.2} fill="rgba(79,129,189,0.28)" stroke="#4A7EBB" strokeWidth={2.2} />
  );
const SquareMark = (p: any) =>
  p.cx == null ? null : (
    <rect x={p.cx - 6.5} y={p.cy - 6.5} width={13} height={13} fill="rgba(192,80,77,0.3)" stroke="#BE4B48" strokeWidth={2.2} />
  );
const TriangleMark = (p: any) =>
  p.cx == null ? null : (
    <polygon
      points={`${p.cx},${p.cy - 7.5} ${p.cx - 7.5},${p.cy + 5.5} ${p.cx + 7.5},${p.cy + 5.5}`}
      fill="rgba(110,195,140,0.3)"
      stroke="#98B954"
      strokeWidth={2.2}
    />
  );

interface PanelProps {
  left: number;
  top: number;
  w: number;
  h: number;
  xDomain: [number, number];
  xTicks: number[];
  rightMax: number;
  freq: Pt[];
  harm: Pt[];
  mult: Pt[];
}

const tickStyle = { fill: "#000", fontSize: 21, fontFamily: TICK_FONT };

const Panel: React.FC<PanelProps> = ({ left, top, w, h, xDomain, xTicks, rightMax, freq, harm, mult }) => {
  const rightTicks = Array.from({ length: rightMax + 1 }, (_, i) => i);
  return (
    <div style={{ position: "absolute", left: left - 100, top: top - 20 }}>
      <ScatterChart width={w + 180} height={h + 100} margin={{ top: 20, right: 0, bottom: 0, left: 0 }}>
        <CartesianGrid yAxisId="right" vertical={false} stroke={GRID} strokeWidth={1.3} />
        <XAxis
          type="number"
          dataKey="x"
          domain={xDomain}
          ticks={xTicks}
          allowDataOverflow
          interval={0}
          height={80}
          tickSize={8}
          tickMargin={19}
          stroke={GRID}
          tick={tickStyle}
        />
        <YAxis
          yAxisId="left"
          type="number"
          dataKey="y"
          domain={[0, 3000]}
          ticks={freqTicks}
          allowDataOverflow
          interval={0}
          width={100}
          tickSize={8}
          tickMargin={14}
          stroke={GRID}
          tick={tickStyle}
        />
        <YAxis
          yAxisId="right"
          orientation="right"
          type="number"
          dataKey="y"
          domain={[0, rightMax]}
          ticks={rightTicks}
          allowDataOverflow
          interval={0}
          width={80}
          tickSize={8}
          tickMargin={15}
          stroke={GRID}
          tick={tickStyle}
        />
        <Scatter yAxisId="left" data={toData(freq)} shape={CircleMark} isAnimationActive={false} />
        <Scatter yAxisId="left" data={toData(harm)} shape={SquareMark} isAnimationActive={false} />
        <Scatter yAxisId="right" data={toData(mult)} shape={TriangleMark} isAnimationActive={false} />
      </ScatterChart>
    </div>
  );
};

const Letter = ({ x, y, t }: { x: number; y: number; t: string }) => (
  <text x={x} y={y} fontSize={56} fontWeight={700} fontFamily="'Liberation Sans Narrow', 'Liberation Sans', sans-serif" fill="#000">
    {t}
  </text>
);
const VTitle = ({ x, y, t }: { x: number; y: number; t: string }) => (
  <text x={x} y={y} transform={`rotate(-90 ${x} ${y})`} textAnchor="middle" fontSize={19.5} fontWeight={700} fontFamily={TITLE_FONT} fill="#000">
    {t}
  </text>
);
const TimeTitle = ({ x, y }: { x: number; y: number }) => (
  <text x={x} y={y} textAnchor="middle" fontSize={23} fontWeight={700} fontFamily={TICK_FONT} fill="#000">
    Time (s)
  </text>
);

export default function App() {
  return (
    <div style={{ position: "absolute", left: 0, top: 0, width: 1854, height: 1708, overflow: "hidden", background: "#fff" }}>
      <Panel left={109} top={21} w={751} h={458} xDomain={[5, 6.1]} xTicks={[5, 5.2, 5.4, 5.6, 5.8, 6]} rightMax={9} freq={aFreq} harm={aHarm} mult={aMult} />
      <Panel left={1025} top={21} w={742} h={458} xDomain={[-0.5, 2.7]} xTicks={[-0.5, 0, 0.5, 1, 1.5, 2, 2.5]} rightMax={9} freq={bFreq} harm={bHarm} mult={bMult} />
      <Panel left={109} top={579} w={751} h={458} xDomain={[16.5, 19.3]} xTicks={[16.5, 17, 17.5, 18, 18.5, 19]} rightMax={8} freq={cFreq} harm={cHarm} mult={cMult} />
      <Panel left={1026} top={579} w={739} h={458} xDomain={[8, 10]} xTicks={[8, 8.5, 9, 9.5, 10]} rightMax={10} freq={dFreq} harm={dHarm} mult={dMult} />
      <Panel left={579} top={1157} w={739} h={458} xDomain={[0.6, 3.5]} xTicks={[0.6, 1.1, 1.6, 2.1, 2.6, 3.1]} rightMax={10} freq={eFreq} harm={eHarm} mult={eMult} />
      <svg width={1854} height={1708} style={{ position: "absolute", left: 0, top: 0, pointerEvents: "none" }}>
        <Letter x={128} y={68} t="A" />
        <Letter x={1050} y={68} t="B" />
        <Letter x={128} y={625} t="C" />
        <Letter x={1039} y={625} t="D" />
        <Letter x={602} y={1202} t="E" />
        <VTitle x={24} y={250} t="Frequency (Hz)" />
        <VTitle x={24} y={808} t="Frequency (Hz)" />
        <VTitle x={493} y={1386} t="Frequency (Hz)" />
        <VTitle x={1843} y={250} t="Multiplicity" />
        <VTitle x={1843} y={807} t="Multiplicity" />
        <VTitle x={1395} y={1385} t="Multiplicity" />
        <TimeTitle x={484} y={1110} />
        <TimeTitle x={1395} y={1110} />
        <TimeTitle x={949} y={1689} />
      </svg>
    </div>
  );
}
